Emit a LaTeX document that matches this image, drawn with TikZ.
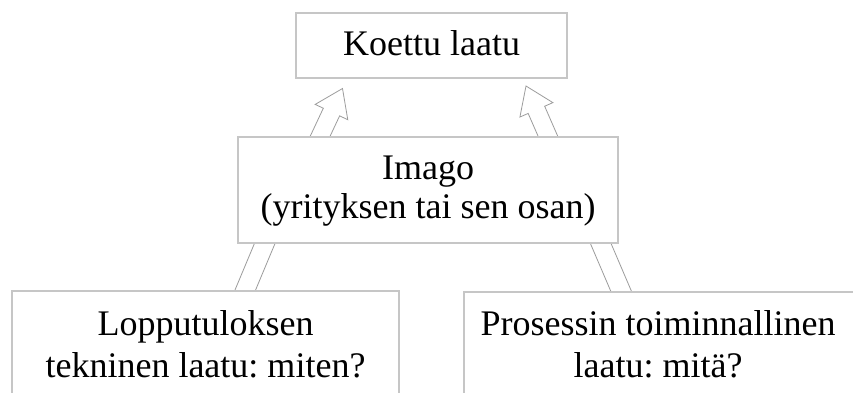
\documentclass[tikz,border=0pt]{standalone}
\usepackage{fontspec}
\setmainfont{Liberation Serif}
\usetikzlibrary{calc}
\frenchspacing
\definecolor{boxline}{HTML}{C6C6C6}
\definecolor{arrline}{HTML}{9C9C9C}
\newcommand\blockarr[5]{% start, tip, head length, head half width, shaft half width
  \coordinate (hb) at ($(#2)!#3!(#1)$);
  \draw[barrow] ($(#1)!#5!-90:(#2)$) -- ($(hb)!#5!-90:(#2)$) -- ($(hb)!#4!-90:(#2)$)
    -- (#2) -- ($(hb)!#4!90:(#2)$) -- ($(hb)!#5!90:(#2)$) -- ($(#1)!#5!90:(#2)$) -- cycle;
}
\begin{document}
\begin{tikzpicture}[x=1pt,y=-1pt,
  box/.style={draw=boxline, line width=1.3pt, fill=white, inner sep=0pt},
  txt/.style={font=\fontsize{36}{39}\selectfont, align=center, inner sep=0pt},
  barrow/.style={draw=arrline, line width=0.8pt, fill=white, line join=miter}]
\useasboundingbox (0,0) rectangle (853,392);
\clip (0,0) rectangle (853,392);
\fill[white] (0,0) rectangle (853,392);
% block arrows (their lower ends pass behind the boxes)
\coordinate (ulS) at (309,160);   \coordinate (ulT) at (342.5,88.5);
\coordinate (urS) at (557,157);   \coordinate (urT) at (526,86);
\coordinate (llS) at (236.5,311); \coordinate (llT) at (285,195);
\coordinate (lrS) at (630,312);   \coordinate (lrT) at (580,195);
\blockarr{ulS}{ulT}{26pt}{18pt}{9pt}
\blockarr{urS}{urT}{26pt}{18pt}{9pt}
\blockarr{llS}{llT}{26pt}{18pt}{9.5pt}
\blockarr{lrS}{lrT}{26pt}{18pt}{9.5pt}
% boxes
\node[box, minimum width=271pt, minimum height=65pt] (top) at (431.5,45.5) {};
\node[box, minimum width=380pt, minimum height=106pt] (imago) at (428,190) {};
\node[box, minimum width=387pt, minimum height=139pt] (left) at (205.5,360.5) {};
\node[box, minimum width=406pt, minimum height=138pt] (right) at (667,361) {};
% texts
\node[txt, anchor=base] (toptxt) at (431.5,55) {Koettu laatu};
\node[txt, anchor=north] (imagotxt) at (428,155.5) {Imago\\(yrityksen tai sen osan)};
\node[txt, anchor=north, font=\fontsize{36}{42}\selectfont] (lefttxt) at (205.5,310.4) {Lopputuloksen\\tekninen laatu: miten?};
\node[txt, anchor=north, font=\fontsize{36}{42}\selectfont] (righttxt) at (658,310.4) {Prosessin toiminnallinen\\laatu: mitä?};
\end{tikzpicture}
\end{document}
